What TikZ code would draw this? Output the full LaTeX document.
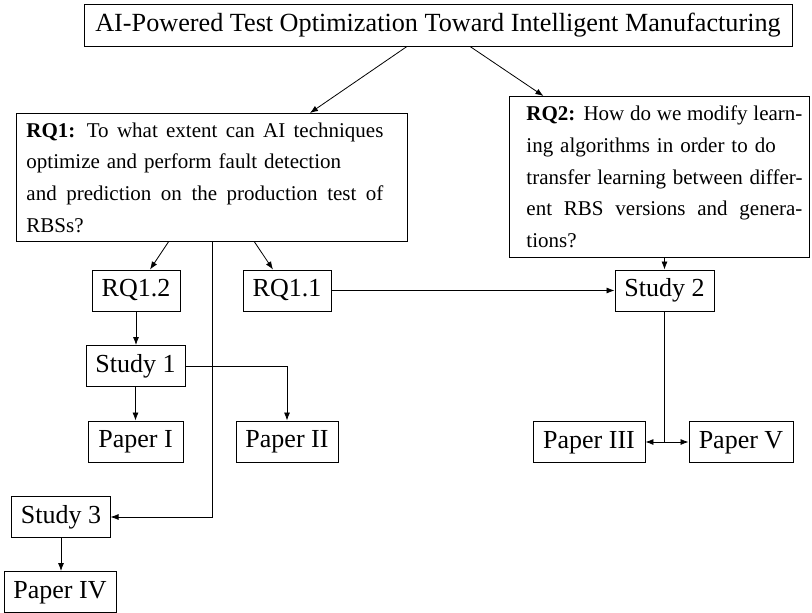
\documentclass[tikz,border=0pt]{standalone}
\usepackage{fontspec}
\setmainfont{Liberation Serif}
\usetikzlibrary{arrows.meta,calc}
\begin{document}
\begin{tikzpicture}[x=1pt,y=-1pt,
  box/.style={draw, line width=0.9pt, font=\fontsize{26}{30}\selectfont, inner xsep=9pt, inner ysep=0pt, minimum height=41pt, text height=18pt, text depth=6pt},
  rqbox/.style={draw, line width=0.9pt, font=\fontsize{21}{31.7}\selectfont, inner sep=0pt, anchor=north west},
  arr/.style={line width=0.8pt, -{Latex[length=8pt,width=6pt]}},
  ln/.style={line width=0.8pt}]
\useasboundingbox (0,0) rectangle (812,613);

\node[box, minimum width=708pt, minimum height=42pt, font=\fontsize{26.2}{30}\selectfont] (title) at (438,25) {AI-Powered Test Optimization Toward Intelligent Manufacturing};

\node[rqbox, minimum height=128pt] (rq1) at (16,113) {\hspace*{10pt}\parbox{357pt}{\spaceskip=0.33em plus 0.3em minus 0.1em\relax \textbf{RQ1:} To what extent can AI techniques\linebreak optimize and perform fault detection\\ and prediction on the production test of\linebreak RBSs?}\hspace*{24pt}};

\node[rqbox, minimum height=161pt] (rq2) at (509,96) {\hspace*{17pt}\parbox{276pt}{\spaceskip=0.33em plus 0.3em minus 0.1em\relax \textbf{RQ2:} How do we modify learn-\linebreak ing algorithms in order to do\\ transfer learning between differ-\linebreak ent RBS versions and genera-\linebreak tions?}\hspace*{7pt}};

\node[box, minimum width=88pt] (rq12) at (136,290.5) {RQ1.2};
\node[box, minimum width=88pt] (rq11) at (287,290.5) {RQ1.1};
\node[box, minimum width=99pt] (s2) at (664.5,290.5) {Study 2};
\node[box, minimum width=99pt] (s1) at (135.5,366) {Study 1};
\node[box, minimum width=95pt] (p1) at (135.5,441.5) {Paper I};
\node[box, minimum width=102pt] (p2) at (287,441.5) {Paper II};
\node[box, minimum width=112pt] (p3) at (589,442) {Paper III};
\node[box, minimum width=104pt] (p5) at (741,442) {Paper V};
\node[box, minimum width=98pt] (s3) at (61,517) {Study 3};
\node[box, minimum width=112pt] (p4) at (60,592) {Paper IV};

\draw[arr] ($(title.south)+(-31,0)$) -- ($(rq1.north)+(98,0)$);
\draw[arr] ($(title.south)+(32,0)$) -- ($(rq2.north)+(-116,0)$);
\draw[arr] ($(rq1.south)+(-43.5,0)$) -- ($(rq12.north)+(14,0)$);
\draw[arr] ($(rq1.south)+(42.5,0)$) -- ($(rq11.north)+(-14,0)$);
\draw[arr] (rq1.south) |- (s3.east);
\draw[arr] (rq11.east) -- (s2.west);
\draw[arr] (s2.north |- rq2.south) -- (s2.north);
\draw[arr] (rq12.south) -- (rq12.south |- s1.north);
\draw[arr] (s1.south) -- (p1.north);
\draw[arr] (s1.east) -| (p2.north);
\coordinate (j) at (s2.south |- p3.east);
\draw[ln] (s2.south) -- (j);
\draw[arr] (j) -- (p3.east);
\draw[arr] (j) -- (p5.west);
\draw[arr] (s3.south) -- (s3.south |- p4.north);
\end{tikzpicture}
\end{document}
